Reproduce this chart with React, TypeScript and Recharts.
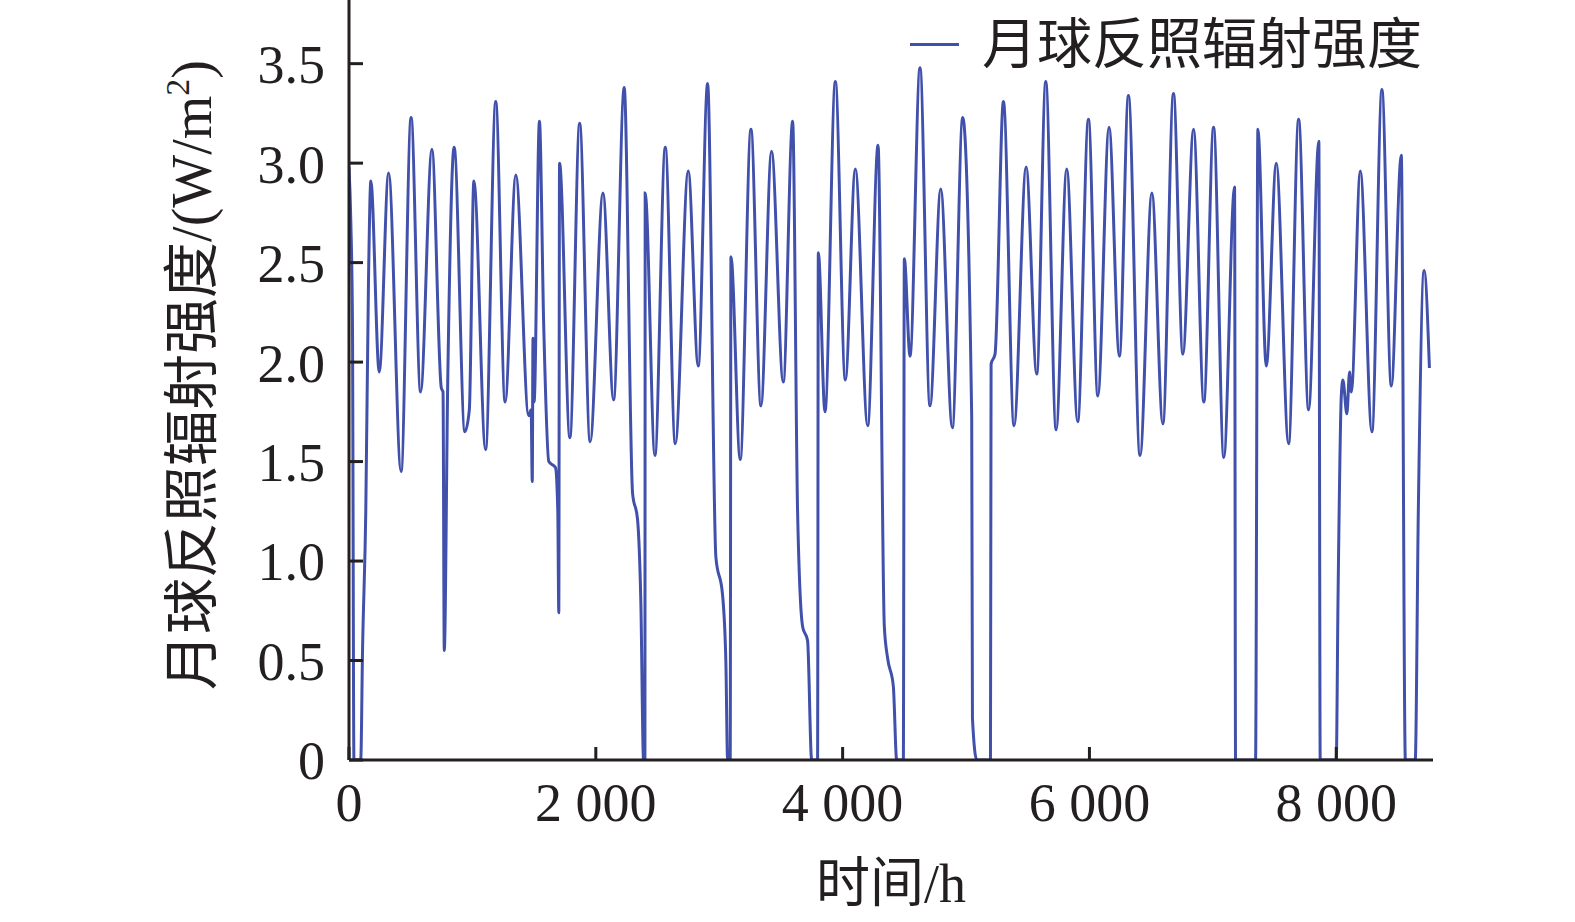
import { LineChart, Line, XAxis, YAxis, Label } from 'recharts';

// [hour, irradiance W/m²], one array per quarter of the year
const q1: [number, number][] = [
  [0, 2.98], [15, 2.7], [28, 2.2], [40, 0], [95, 0], [110, 0.56], [136, 1.25], [158, 2.41], [177, 2.91],
  [245, 1.95], [321, 2.95], [422, 1.45], [503, 3.23], [580, 1.85], [672, 3.07], [748, 1.87], [762, 1.85],
  [772, 0.55], [800, 1.9], [852, 3.08], [939, 1.65], [975, 1.76], [1012, 2.91], [1107, 1.56], [1189, 3.31],
  [1265, 1.8], [1352, 2.94], [1456, 1.73], [1476, 1.76], [1485, 1.4], [1491, 2.12], [1500, 1.8], [1543, 3.21],
  [1578, 2.18], [1619, 1.5], [1673, 1.47], [1692, 1.25], [1700, 0.74], [1706, 3.0], [1790, 1.62], [1869, 3.2],
  [1954, 1.6], [2058, 2.85],
];
const q2: [number, number][] = [
  [2144, 1.81], [2230, 3.38], [2298, 1.34], [2338, 1.21], [2365, 0.79], [2387, 0], [2398, 0], [2400, 2.85],
  [2479, 1.53], [2563, 3.08], [2644, 1.59], [2749, 2.96], [2830, 1.98], [2906, 3.4], [2973, 1.02], [3027, 0.83],
  [3054, 0.49], [3068, 0], [3089, 0], [3095, 2.53], [3170, 1.51], [3257, 3.17], [3338, 1.78], [3424, 3.06],
  [3519, 1.9], [3595, 3.21], [3635, 1.25], [3676, 0.67], [3716, 0.6], [3749, 0], [3797, 0], [3803, 2.55],
  [3857, 1.75], [3941, 3.41], [4022, 1.91], [4103, 2.97], [4203, 1.68], [4287, 3.09],
];
const q3: [number, number][] = [
  [4338, 0.67], [4365, 0.51], [4411, 0.37], [4438, 0], [4492, 0], [4500, 2.52], [4546, 2.03], [4627, 3.48],
  [4708, 1.78], [4795, 2.87], [4889, 1.67], [4973, 3.23], [5046, 1.72], [5052, 0.21], [5087, 0], [5198, 0],
  [5203, 1.99], [5235, 2.04], [5303, 3.31], [5389, 1.68], [5487, 2.98], [5573, 1.94], [5646, 3.41], [5730, 1.66],
  [5816, 2.97], [5905, 1.7], [5992, 3.22], [6068, 1.83], [6159, 3.18], [6243, 2.03], [6316, 3.34], [6410, 1.53],
];
const q4: [number, number][] = [
  [6506, 2.85], [6595, 1.69], [6681, 3.35], [6757, 2.04], [6844, 3.17], [6927, 1.8], [7006, 3.18], [7089, 1.52],
  [7176, 2.88], [7184, 0], [7346, 0], [7365, 3.17], [7433, 1.98], [7514, 3.0], [7614, 1.59], [7695, 3.22],
  [7776, 1.76], [7859, 3.11], [7870, 0], [8000, 0], [8014, 0.79], [8041, 1.83], [8054, 1.91], [8086, 1.74],
  [8108, 1.95], [8122, 1.85], [8195, 2.96], [8289, 1.65], [8370, 3.37], [8446, 1.88], [8527, 3.04], [8560, 0],
  [8640, 0], [8665, 1.25], [8712, 2.46], [8755, 1.97],
];

const xTicks = [0, 2000, 4000, 6000, 8000];
const yTicks = [0, 0.5, 1, 1.5, 2, 2.5, 3, 3.5];
const seriesName = '月球反照辐射强度';
const xTitle = '时间/h';

const data = [...q1, ...q2, ...q3, ...q4].map(([h, v]) => ({ h, v }));

const INK = '#231f20';
const BLUE = '#4050ab';
const FONT = "'Liberation Serif', 'Times New Roman', 'Noto Sans CJK SC', serif";

const fmtX = (v: number) => (v === 0 ? '0' : `${Math.floor(v / 1000)} ${String(v % 1000).padStart(3, '0')}`);
const fmtY = (v: number) => (v === 0 ? '0' : v.toFixed(1));

function XTick(props: any) {
  const { x, y, payload } = props;
  return (
    <g>
      <line x1={x} x2={x} y1={y} y2={y - 13} stroke={INK} strokeWidth={3} />
      <text x={x} y={y + 61} textAnchor="middle" fontSize={54} fill={INK} fontFamily={FONT}>
        {fmtX(payload.value)}
      </text>
    </g>
  );
}

function YTick(props: any) {
  const { x, y, payload } = props;
  return (
    <g>
      <line x1={x} x2={x + 14} y1={y} y2={y} stroke={INK} strokeWidth={3} />
      <text x={x - 24} y={y} dy="0.36em" textAnchor="end" fontSize={54} fill={INK} fontFamily={FONT}>
        {fmtY(payload.value)}
      </text>
    </g>
  );
}

export default function App() {
  return (
    <div style={{ position: 'absolute', left: 0, top: 0, width: 1575, height: 922, background: '#fff' }}>
      <LineChart width={1575} height={922} data={data} margin={{ top: 0, right: 142, bottom: 102, left: 249 }}>
        <XAxis
          dataKey="h"
          type="number"
          domain={[0, 8784]}
          ticks={xTicks}
          allowDataOverflow
          height={60}
          tickSize={0}
          tickMargin={0}
          tickLine={false}
          axisLine={{ stroke: INK, strokeWidth: 3 }}
          tick={XTick}
        >
          <Label
            content={(p: any) => {
              const vb = p.viewBox;
              return (
                <text x={vb.x + vb.width / 2} y={vb.y + 142} textAnchor="middle" fontSize={54} fill={INK} fontFamily={FONT}>
                  {xTitle}
                </text>
              );
            }}
          />
        </XAxis>
        <YAxis
          type="number"
          domain={[0, 3.82]}
          ticks={yTicks}
          allowDataOverflow
          width={100}
          tickSize={0}
          tickMargin={0}
          tickLine={false}
          axisLine={{ stroke: INK, strokeWidth: 3 }}
          tick={YTick}
        >
          <Label
            content={(p: any) => {
              const vb = p.viewBox;
              const cx = vb.x - 38;
              const cy = vb.y + vb.height / 2 - 5;
              return (
                <text
                  transform={`translate(${cx},${cy}) rotate(-90)`}
                  textAnchor="middle"
                  fontSize={56}
                  fill={INK}
                  fontFamily={FONT}
                >
                  月球反照辐射强度/(W/m<tspan fontSize={34} dy={-22}>2</tspan>
                  <tspan dy={22}>)</tspan>
                </text>
              );
            }}
          />
        </YAxis>
        <Line
          type="monotone"
          dataKey="v"
          name={seriesName}
          stroke={BLUE}
          strokeWidth={3}
          dot={false}
          isAnimationActive={false}
        />
      </LineChart>
      <div
        style={{
          position: 'absolute',
          top: 17,
          left: 910,
          display: 'flex',
          alignItems: 'center',
          fontFamily: FONT,
          color: INK,
        }}
      >
        <span style={{ display: 'inline-block', width: 49, height: 3, background: BLUE, marginRight: 23 }} />
        <span style={{ fontSize: 55, lineHeight: 1 }}>{seriesName}</span>
      </div>
    </div>
  );
}
